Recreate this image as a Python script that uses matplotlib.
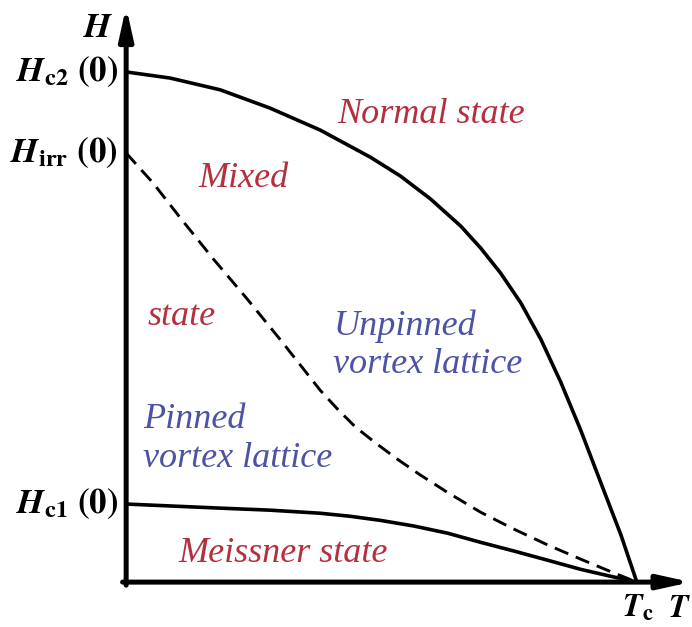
import matplotlib
matplotlib.use("Agg")
import matplotlib.pyplot as plt

plt.rcParams["mathtext.fontset"] = "stix"

# Reduced temperature T/Tc and field H/Hc2(0) along each phase boundary
hc2_t = [0.0, 0.086, 0.184, 0.282, 0.380, 0.478, 0.537, 0.596, 0.655, 0.694,
         0.733, 0.773, 0.812, 0.851, 0.890, 0.929, 0.969, 1.0]
hc2_h = [1.0, 0.988, 0.965, 0.929, 0.886, 0.833, 0.796, 0.751, 0.698, 0.655,
         0.606, 0.547, 0.476, 0.392, 0.298, 0.196, 0.092, 0.0]

hirr_t = [0.0, 0.053, 0.106, 0.171, 0.237, 0.302, 0.347, 0.380, 0.414, 0.449,
          0.488, 0.531, 0.576, 0.629, 0.694, 0.759, 0.825, 0.890, 0.955, 1.0]
hirr_h = [0.841, 0.782, 0.714, 0.633, 0.555, 0.475, 0.418, 0.376, 0.339, 0.304,
          0.273, 0.241, 0.210, 0.176, 0.137, 0.104, 0.073, 0.045, 0.018, 0.0]

hc1_t = [0.0, 0.184, 0.282, 0.380, 0.439, 0.498, 0.563, 0.629, 0.694, 0.759,
         0.825, 0.890, 0.955, 1.0]
hc1_h = [0.153, 0.145, 0.141, 0.135, 0.129, 0.121, 0.110, 0.096, 0.078, 0.061,
         0.043, 0.025, 0.010, 0.0]

axis_labels = [r"$\mathbfit{H}_{\mathbf{c2}}\ \mathbf{(0)}$",
               r"$\mathbfit{H}_{\mathbf{irr}}\ \mathbf{(0)}$",
               r"$\mathbfit{H}_{\mathbf{c1}}\ \mathbf{(0)}$"]
axis_label_h = [hc2_h[0], hirr_h[0], hc1_h[0]]

RED = "#b3303f"
BLUE = "#4c52a6"

fig = plt.figure(figsize=(6.92, 6.27), dpi=100)
ax = fig.add_axes([0, 0, 1, 1])
ax.set_xlim(-0.247, 1.108)
ax.set_ylim(-0.088, 1.141)
ax.axis("off")

# Axes with arrow heads
arrow = dict(arrowstyle="-|>,head_length=1.9,head_width=0.42", lw=3.6,
             color="black", shrinkA=0, shrinkB=0)
ax.annotate("", xy=(0, 1.128), xytext=(0, -0.006), arrowprops=arrow)
ax.annotate("", xy=(1.106, 0), xytext=(-0.007, 0), arrowprops=arrow)

# Phase boundaries
ax.plot(hc2_t, hc2_h, color="black", lw=2.6, solid_capstyle="round",
        solid_joinstyle="round")
ax.plot(hc1_t, hc1_h, color="black", lw=2.6, solid_capstyle="round",
        solid_joinstyle="round")
ax.plot(hirr_t, hirr_h, color="black", lw=2.1, linestyle=(0, (5.0, 2.8)))

# Axis annotations
label_font = dict(fontsize=25, color="black")
for txt, h in zip(axis_labels, axis_label_h):
    ax.text(-0.016, h, txt, ha="right", va="center", **label_font)
ax.text(-0.055, 1.088, r"$\mathbfit{H}$", ha="center", va="center", **label_font)
ax.text(1.002, -0.068, r"$\mathbfit{T}_{\mathbf{c}}$", ha="center",
        va="baseline", fontsize=23, color="black")
ax.text(1.083, -0.068, r"$\mathbfit{T}$", ha="center", va="baseline",
        fontsize=23, color="black")

# Region names
region = dict(family="Liberation Serif", style="italic", fontsize=26,
              ha="left", va="baseline")
ax.text(0.414, 0.900, "Normal state", color=RED, **region)
ax.text(0.141, 0.775, "Mixed", color=RED, **region)
ax.text(0.041, 0.504, "state", color=RED, **region)
ax.text(0.102, 0.039, "Meissner state", color=RED, **region)
ax.text(0.406, 0.484, "Unpinned", color=BLUE, **region)
ax.text(0.406, 0.410, "vortex lattice", color=BLUE, **region)
ax.text(0.033, 0.302, "Pinned", color=BLUE, **region)
ax.text(0.033, 0.226, "vortex lattice", color=BLUE, **region)

fig.savefig("out.png", dpi=100)
